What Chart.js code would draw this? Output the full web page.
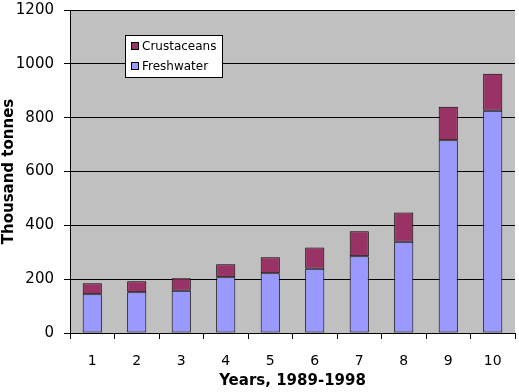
<!DOCTYPE html>
<html>
<head>
<meta charset="utf-8">
<script src="https://cdn.jsdelivr.net/npm/chart.js@4/dist/chart.umd.min.js"></script>
<style>
  html, body { margin: 0; padding: 0; background: #fff; }
  #wrap { width: 519px; height: 392px; }
</style>
</head>
<body>
<div id="wrap"><canvas id="chart" width="519" height="392"></canvas></div>
<script>
// Aquaculture production, thousand tonnes
const years = ['1', '2', '3', '4', '5', '6', '7', '8', '9', '10'];
const freshwater = [144, 151, 157, 207, 222, 239, 285, 339, 716, 826];
const crustaceans = [41, 41, 46, 48, 59, 79, 93, 109, 125, 137];
const yTicks = [0, 200, 400, 600, 800, 1000, 1200];

const colors = {
  fresh: '#9999ff',
  crust: '#993366',
  plot: '#c0c0c0'
};

const fontFamily = '"DejaVu Sans", Verdana, sans-serif';

// grey plot background
const plotBg = {
  id: 'plotBg',
  beforeDraw(chart) {
    const { ctx, chartArea: a } = chart;
    ctx.save();
    ctx.fillStyle = colors.plot;
    ctx.fillRect(a.left, a.top, a.right - a.left, a.bottom - a.top);
    ctx.restore();
  }
};

// boxed legend inside the plot, top-left
const boxLegend = {
  id: 'boxLegend',
  afterDraw(chart) {
    const { ctx } = chart;
    const sets = chart.data.datasets.slice().reverse();
    const x = 125, y = 35, w = 97, h = 42;
    ctx.save();
    ctx.fillStyle = '#fff';
    ctx.strokeStyle = '#000';
    ctx.lineWidth = 1;
    ctx.fillRect(x, y, w, h);
    ctx.strokeRect(x + 0.5, y + 0.5, w, h);
    ctx.font = '12px ' + fontFamily;
    ctx.textBaseline = 'middle';
    sets.forEach((ds, i) => {
      const cy = y + 11 + i * 20;
      ctx.fillStyle = ds.backgroundColor;
      ctx.fillRect(x + 6, cy - 4, 8, 8);
      ctx.strokeRect(x + 6.5, cy - 3.5, 7, 7);
      ctx.fillStyle = '#000';
      ctx.fillText(ds.label, x + 17, cy + 1);
    });
    ctx.restore();
  }
};

new Chart(document.getElementById('chart').getContext('2d'), {
  type: 'bar',
  data: {
    labels: years,
    datasets: [
      {
        label: 'Freshwater',
        data: freshwater,
        backgroundColor: colors.fresh,
        borderColor: '#000',
        borderWidth: 1,
        borderSkipped: false
      },
      {
        label: 'Crustaceans',
        data: crustaceans,
        backgroundColor: colors.crust,
        borderColor: '#000',
        borderWidth: 1,
        borderSkipped: false
      }
    ]
  },
  options: {
    responsive: false,
    animation: false,
    layout: { padding: { left: 0, right: 4, top: 10, bottom: 0 } },
    datasets: { bar: { barPercentage: 0.43, categoryPercentage: 1 } },
    plugins: {
      legend: { display: false },
      tooltip: { enabled: false }
    },
    scales: {
      x: {
        stacked: true,
        afterFit(scale) {
          scale.height = 59;
          scale.paddingLeft = 0;
          scale.paddingRight = 0;
        },
        grid: {
          offset: true,
          drawOnChartArea: false,
          color: '#000',
          tickLength: 6
        },
        border: { color: '#000', width: 1 },
        ticks: {
          color: '#000',
          padding: 14,
          font: { family: fontFamily, size: 14 }
        },
        title: {
          display: true,
          text: 'Years, 1989-1998',
          color: '#000',
          padding: { top: 0, bottom: 2 },
          font: { family: fontFamily, size: 15, weight: 'bold' }
        }
      },
      y: {
        stacked: true,
        min: 0,
        max: 1200,
        afterFit(scale) {
          scale.width = 70;
          scale.paddingTop = 0;
          scale.paddingBottom = 0;
        },
        afterBuildTicks(scale) { scale.ticks = yTicks.map(v => ({ value: v })); },
        grid: {
          color: '#000',
          tickLength: 6
        },
        border: { color: '#000', width: 1 },
        ticks: {
          color: '#000',
          padding: 10,
          callback: v => String(v),
          font: { family: fontFamily, size: 15 }
        },
        title: {
          display: true,
          text: 'Thousand tonnes',
          color: '#000',
          padding: { top: 0, bottom: 2 },
          font: { family: fontFamily, size: 15, weight: 'bold' }
        }
      }
    }
  },
  plugins: [plotBg, boxLegend]
});
</script>
</body>
</html>
